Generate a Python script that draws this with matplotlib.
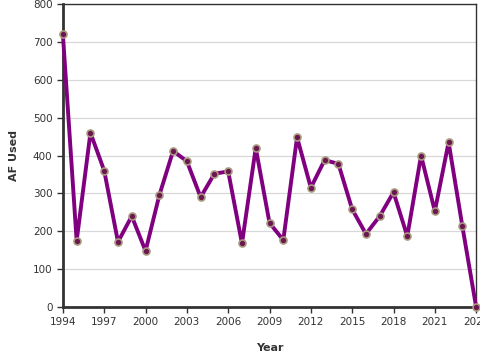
import numpy as np
import matplotlib.pyplot as plt

# yearly AF used
years = list(range(1994, 2025))
af_used = [720, 175, 460, 360, 172, 240, 148, 295, 412, 385,
           290, 352, 358, 168, 420, 222, 177, 448, 315, 388,
           378, 258, 193, 240, 303, 187, 400, 253, 435, 213, 0]
year_ticks = list(range(1994, 2025, 3))
y_ticks = list(range(0, 801, 100))

fig = plt.figure(figsize=(4.8, 3.6), dpi=100)
ax = fig.add_axes([0.131, 0.147, 0.861, 0.842])

ax.plot(years, af_used, color="#800080", linewidth=2.8, zorder=3,
        marker="o", markersize=5, markerfacecolor="#6b1650",
        markeredgecolor="#a8987e", markeredgewidth=1.2, clip_on=False)

ax.set_xlim(1994, 2024)
ax.set_ylim(0, 800)
ax.set_xticks(year_ticks)
ax.set_yticks(y_ticks)
ax.tick_params(labelsize=7.5, colors="#333333", length=4, width=1)
ax.grid(axis="y", color="#d8d8d8", linewidth=0.9)
ax.set_axisbelow(True)

for side in ["left", "bottom"]:
    ax.spines[side].set_linewidth(2)
    ax.spines[side].set_color("#333333")
for side in ["top", "right"]:
    ax.spines[side].set_linewidth(1)
    ax.spines[side].set_color("#333333")

ax.set_xlabel("Year", fontsize=8, fontweight="bold", color="#333333", labelpad=11)
ax.set_ylabel("AF Used", fontsize=8, fontweight="bold", color="#333333", labelpad=10)

fig.savefig("out.png", dpi=100)
